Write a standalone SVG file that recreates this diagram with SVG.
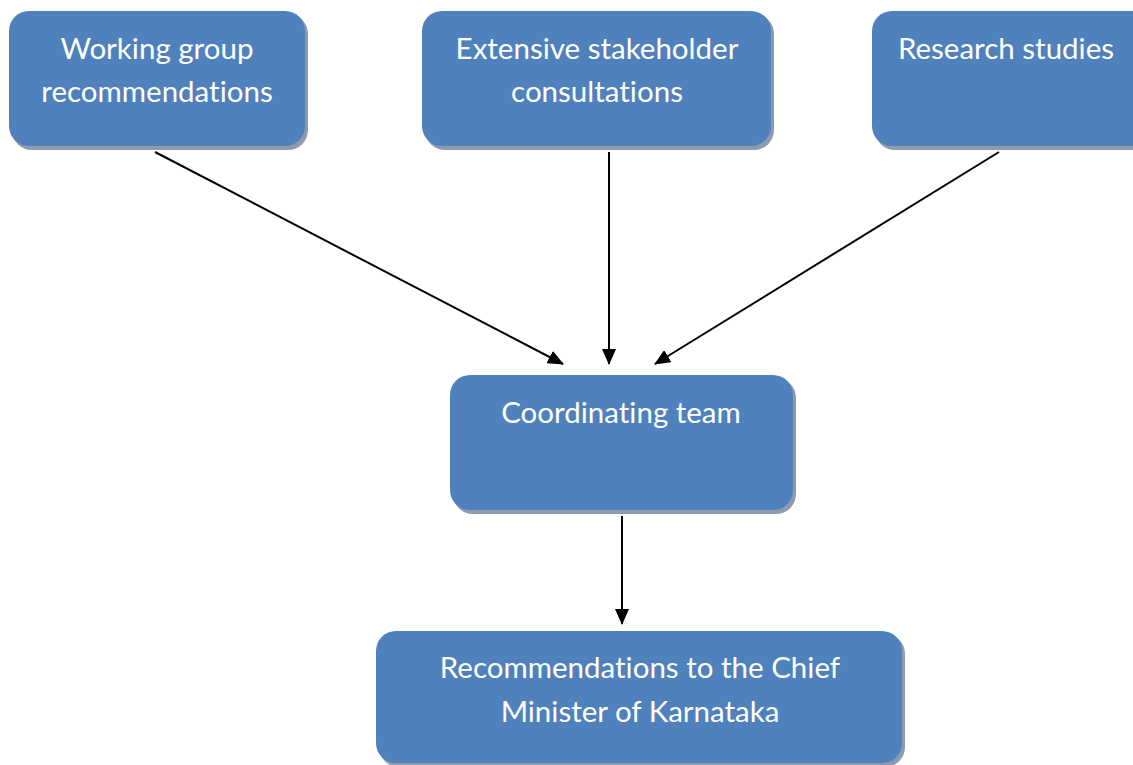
<svg xmlns="http://www.w3.org/2000/svg" width="1133" height="765" viewBox="0 0 1133 765">
<defs>
<style>
.sh{fill:#8e9aad}
.bx{fill:#4f81bd}
.t{fill:#ffffff;font-family:Lato,"Open Sans",sans-serif;font-size:29.5px;text-anchor:middle;font-variant-ligatures:none}
.c{stroke:#000;stroke-width:2;fill:none;marker-end:url(#ah)}
</style>
<marker id="ah" viewBox="0 0 16 14" refX="15" refY="7" markerWidth="16" markerHeight="14" markerUnits="userSpaceOnUse" orient="auto">
<path d="M0,0 L16,7 L0,14 Z" fill="#000"/>
</marker>
</defs>
<rect width="1133" height="765" fill="#fff"/>
<g id="n1">
<rect class="sh" x="12" y="14" width="296" height="136" rx="20"/>
<rect class="bx" x="9" y="11" width="296" height="135" rx="20"/>
<text class="t" x="157" y="59">Working group</text>
<text class="t" x="157" y="102">recommendations</text>
</g>
<g id="n2">
<rect class="sh" x="425" y="14" width="349" height="136" rx="20"/>
<rect class="bx" x="422" y="11" width="349" height="135" rx="20"/>
<text class="t" x="597" y="59">Extensive stakeholder</text>
<text class="t" x="597" y="102">consultations</text>
</g>
<g id="n3">
<rect class="sh" x="875" y="14" width="290" height="136" rx="20"/>
<rect class="bx" x="872" y="11" width="290" height="135" rx="20"/>
<text class="t" x="1006" y="59">Research studies</text>
</g>
<g id="n4">
<rect class="sh" x="453" y="378" width="343" height="136" rx="20"/>
<rect class="bx" x="450" y="375" width="343" height="135" rx="20"/>
<text class="t" x="621" y="423">Coordinating team</text>
</g>
<g id="n5">
<rect class="sh" x="379" y="634" width="526" height="133" rx="20"/>
<rect class="bx" x="376" y="631" width="526" height="132" rx="20"/>
<text class="t" x="640" y="678">Recommendations to the Chief</text>
<text class="t" x="640" y="722">Minister of Karnataka</text>
</g>
<g id="connectors">
<line class="c" x1="155" y1="152" x2="563" y2="364"/>
<line class="c" x1="609" y1="152" x2="609" y2="364"/>
<line class="c" x1="999" y1="152" x2="655" y2="364"/>
<line class="c" x1="622" y1="516" x2="622" y2="624"/>
</g>
</svg>
